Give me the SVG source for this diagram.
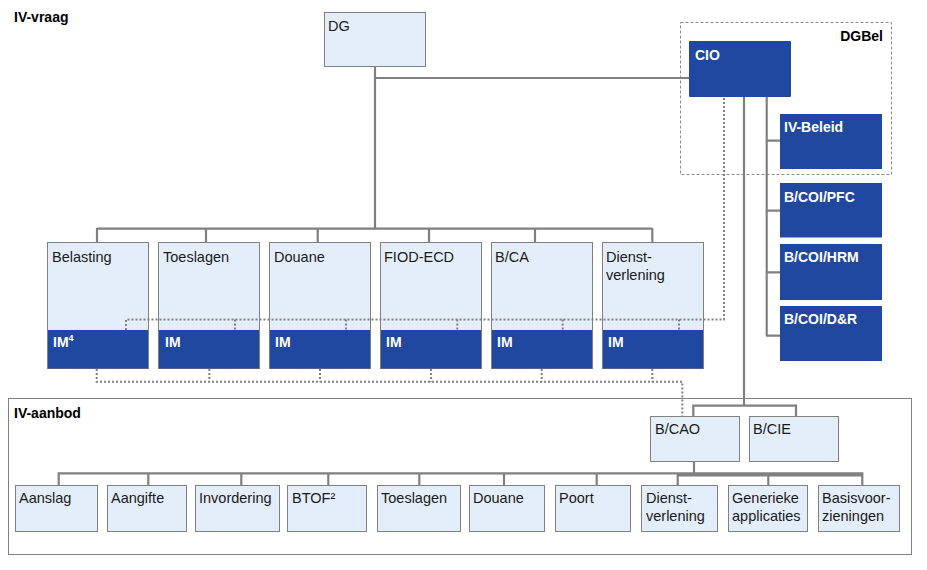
<svg xmlns="http://www.w3.org/2000/svg" width="927" height="570" viewBox="0 0 927 570">
<style>
text{font-family:"Liberation Sans",Arial,sans-serif;}
.t{font-size:14.5px;fill:#1a1a1a;}
.b{font-size:14px;font-weight:bold;fill:#000;}
.w{font-size:14px;font-weight:bold;fill:#fff;}
.lt{fill:#e4eefa;stroke:#808080;stroke-width:1;}
.dk{fill:#2048a1;}
.ln{fill:none;stroke:#808080;stroke-width:2.2;}
.dot{fill:none;stroke:#808080;stroke-width:2;stroke-dasharray:2,2;}
.frame{fill:none;stroke:#808080;stroke-width:1;}
.dash{fill:none;stroke:#8c8c8c;stroke-width:1;stroke-dasharray:3,2;}
</style>
<rect width="927" height="570" fill="#fff"/>
<text class="b" x="14" y="22">IV-vraag</text>
<g id="dgbel-frame"><rect class="dash" x="680.5" y="22.5" width="211" height="152"/><text class="b" x="883" y="41" text-anchor="end">DGBel</text></g>
<g id="aanbod-frame"><rect class="frame" x="8.5" y="398.5" width="903" height="156"/><text class="b" x="14" y="418">IV-aanbod</text></g>
<g id="dg"><rect class="lt" x="324.5" y="12.5" width="101" height="54"/><text class="t" x="328" y="31">DG</text></g>
<g id="cio"><rect class="dk" x="689" y="41" width="102" height="56" rx="1"/><text class="w" x="695" y="60">CIO</text></g>
<g id="iv-beleid"><rect class="dk" x="780" y="114" width="102" height="55"/><text class="w" x="784" y="132">IV-Beleid</text></g>
<g id="pfc"><rect class="dk" x="780" y="183" width="102" height="54.5"/><text class="w" x="784" y="202">B/COI/PFC</text></g>
<g id="hrm"><rect class="dk" x="780" y="244" width="102" height="56"/><text class="w" x="784" y="262">B/COI/HRM</text></g>
<g id="dr"><rect class="dk" x="780" y="306" width="102" height="55"/><text class="w" x="784" y="324">B/COI/D&amp;R</text></g>
<g id="belasting"><rect class="lt" x="47.5" y="242.5" width="101" height="126"/><rect class="dk" x="48" y="330" width="100" height="38.5"/><text class="t" x="52" y="262">Belasting</text><text class="w" x="53" y="347">IM<tspan font-size="9" dy="-6">4</tspan></text></g>
<g id="toeslagen"><rect class="lt" x="158.5" y="242.5" width="101" height="126"/><rect class="dk" x="159" y="330" width="100" height="38.5"/><text class="t" x="163" y="262">Toeslagen</text><text class="w" x="165" y="347">IM</text></g>
<g id="douane"><rect class="lt" x="269.5" y="242.5" width="101" height="126"/><rect class="dk" x="270" y="330" width="100" height="38.5"/><text class="t" x="274" y="262">Douane</text><text class="w" x="275" y="347">IM</text></g>
<g id="fiod"><rect class="lt" x="380.5" y="242.5" width="101" height="126"/><rect class="dk" x="381" y="330" width="100" height="38.5"/><text class="t" x="384" y="262">FIOD-ECD</text><text class="w" x="386" y="347">IM</text></g>
<g id="bca"><rect class="lt" x="491.5" y="242.5" width="101" height="126"/><rect class="dk" x="492" y="330" width="100" height="38.5"/><text class="t" x="495" y="262">B/CA</text><text class="w" x="497" y="347">IM</text></g>
<g id="dienstverlening"><rect class="lt" x="602.5" y="242.5" width="101" height="126"/><rect class="dk" x="603" y="330" width="100" height="38.5"/><text class="t" x="606" y="262">Dienst-</text><text class="t" x="606" y="280">verlening</text><text class="w" x="608" y="347">IM</text></g>
<g id="bcao"><rect class="lt" x="650.5" y="416.5" width="89" height="45"/><text class="t" x="655" y="434">B/CAO</text></g>
<g id="bcie"><rect class="lt" x="749.5" y="416.5" width="89" height="45"/><text class="t" x="753" y="434">B/CIE</text></g>
<g id="aanslag"><rect class="lt" x="15.5" y="485.5" width="82" height="46"/><text class="t" x="19" y="503">Aanslag</text></g>
<g id="aangifte"><rect class="lt" x="107.5" y="485.5" width="79" height="46"/><text class="t" x="111" y="503">Aangifte</text></g>
<g id="invordering"><rect class="lt" x="195.5" y="485.5" width="84" height="46"/><text class="t" x="199" y="503">Invordering</text></g>
<g id="btof"><rect class="lt" x="287.5" y="485.5" width="79" height="46"/><text class="t" x="292" y="503">BTOF²</text></g>
<g id="toeslagen2"><rect class="lt" x="377.5" y="485.5" width="83" height="46"/><text class="t" x="381" y="503">Toeslagen</text></g>
<g id="douane2"><rect class="lt" x="469.5" y="485.5" width="75" height="46"/><text class="t" x="473" y="503">Douane</text></g>
<g id="poort"><rect class="lt" x="555.5" y="485.5" width="75" height="46"/><text class="t" x="559" y="503">Poort</text></g>
<g id="dienstverlening2"><rect class="lt" x="641.5" y="485.5" width="76" height="46"/><text class="t" x="646" y="503">Dienst-</text><text class="t" x="646" y="521">verlening</text></g>
<g id="generieke"><rect class="lt" x="728.5" y="485.5" width="79" height="46"/><text class="t" x="732" y="503">Generieke</text><text class="t" x="732" y="521">applicaties</text></g>
<g id="basis"><rect class="lt" x="818.5" y="485.5" width="81" height="46"/><text class="t" x="822" y="503">Basisvoor-</text><text class="t" x="822" y="521">zieningen</text></g>
<g id="connectors">
<path class="ln" d="M375,67 V228.7 M375,78 H689 M97,228.7 H652.3 M97,228 V242 M206,228 V242 M317.7,228 V242 M429,228 V242 M535,228 V242 M652.3,228 V242"/>
<path class="ln" d="M766.7,97 V335.7 M766,140.7 H780 M766,210.7 H780 M766,272.3 H780 M766,335.7 H780"/>
<path class="ln" d="M744,97 V405.7 M693.3,405.7 H796 M693.3,404.6 V416 M796,404.6 V416"/>
<path class="ln" d="M694,462 V473.3 M58.7,473.3 H862.3 M677.7,475.3 H862.3 M58.7,472.2 V485 M148.3,472.2 V485 M241.3,472.2 V485 M328.3,472.2 V485 M419.3,472.2 V485 M504,472.2 V485 M596.7,472.2 V485 M677.7,472.2 V485 M768.3,472.2 V485 M862.3,472.2 V485"/>
<path class="dot" d="M126,330 V319.5 H724 V97 M235,319.5 V330 M346,319.5 V330 M457.3,319.5 V330 M562.7,319.5 V330 M679,319.5 V330"/>
<path class="dot" d="M96.7,369 V381.7 H682.3 V416 M209.3,369 V381.7 M320,369 V381.7 M431,369 V381.7 M541.7,369 V381.7 M652.3,369 V381.7"/>
</g>
</svg>
